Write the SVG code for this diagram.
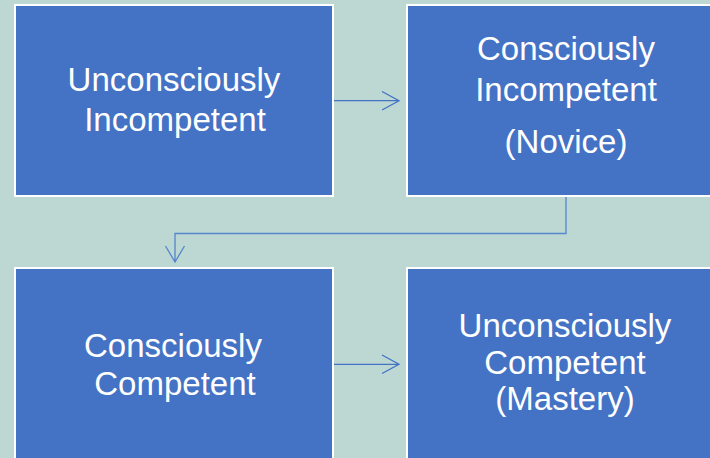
<svg xmlns="http://www.w3.org/2000/svg" width="710" height="458" viewBox="0 0 710 458">
<style>
.box{fill:#4472c4;stroke:#ffffff;stroke-width:2}
.t{fill:#ffffff;font-family:"Liberation Sans",Arial,sans-serif;font-size:33px;text-anchor:middle}
.c{fill:none;stroke:#4472c4;stroke-width:1.3}
.c2{fill:none;stroke:#5585cc;stroke-width:1.3}
</style>
<rect width="710" height="458" fill="#bdd8d3"/>
<g id="n1">
<rect class="box" x="15" y="5" width="318" height="191"/>
<text class="t" x="174" y="91">Unconsciously</text>
<text class="t" x="175" y="131">Incompetent</text>
</g>
<g id="n2">
<rect class="box" x="407" y="5" width="318" height="191"/>
<text class="t" x="566" y="60">Consciously</text>
<text class="t" x="566" y="101">Incompetent</text>
<text class="t" x="566" y="153">(Novice)</text>
</g>
<g id="n3">
<rect class="box" x="15" y="268" width="318" height="191"/>
<text class="t" x="173" y="357">Consciously</text>
<text class="t" x="175" y="395">Competent</text>
</g>
<g id="n4">
<rect class="box" x="407" y="268" width="318" height="191"/>
<text class="t" x="565" y="337">Unconsciously</text>
<text class="t" x="565" y="374">Competent</text>
<text class="t" x="565" y="410">(Mastery)</text>
</g>
<g id="connectors">
<path class="c" d="M334 100.7H399M382 91.5L399 100.7L382 110"/>
<path class="c2" d="M566 197V233.5H175V262M165.5 246L175 262L184.5 246"/>
<path class="c" d="M334 364.3H399M382 355L399 364.3L382 373.5"/>
</g>
</svg>
